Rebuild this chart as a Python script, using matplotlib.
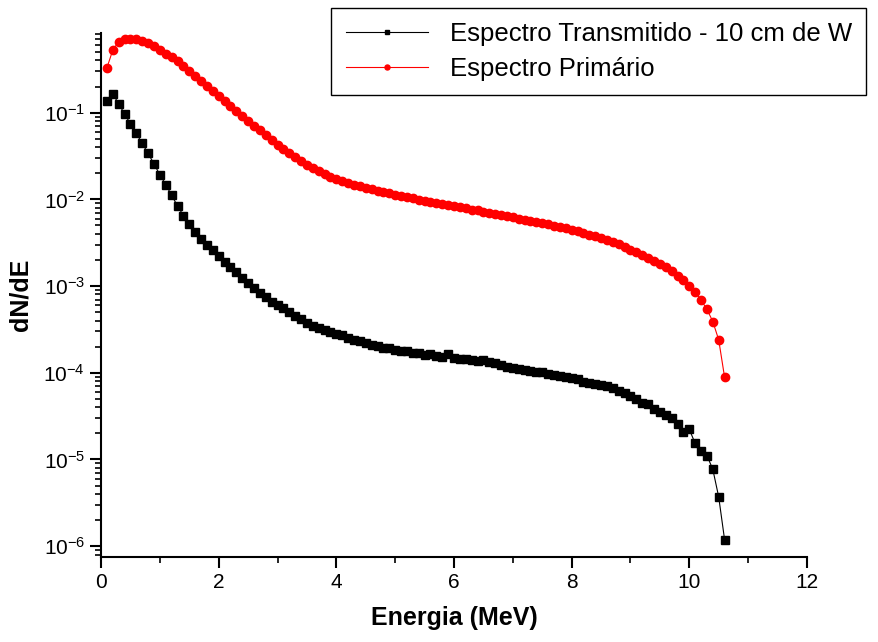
import numpy as np
import matplotlib
matplotlib.use("Agg")
import matplotlib.pyplot as plt
from matplotlib.ticker import NullFormatter

plt.rcParams['font.family'] = ['Liberation Sans', 'DejaVu Sans']
plt.rcParams['mathtext.fontset'] = 'custom'
plt.rcParams['mathtext.rm'] = 'Liberation Sans'
plt.rcParams['mathtext.default'] = 'regular'

# energia em passos de 0.1 MeV (0.1 .. 10.6)
energia = np.round(np.arange(1, 107) * 0.1, 1)

# espectro transmitido - 10 cm de W
transmitido = [
    0.138, 0.165, 0.126, 0.0966, 0.074, 0.0577, 0.0442, 0.0339, 0.0256, 0.0192,
    0.0148, 0.0111, 0.0084, 0.0065, 0.0052, 0.00423, 0.00353, 0.00296, 0.0026, 0.00223,
    0.00189, 0.00165, 0.00145, 0.00123, 0.00108, 0.00096, 0.00083, 0.00074, 0.00066, 6.1e-4,
    5.6e-4, 5.0e-4, 4.5e-4, 4.2e-4, 3.8e-4, 3.5e-4, 3.3e-4, 3.1e-4, 2.95e-4, 2.78e-4,
    2.7e-4, 2.55e-4, 2.4e-4, 2.35e-4, 2.2e-4, 2.1e-4, 2.05e-4, 1.95e-4, 1.92e-4, 1.83e-4,
    1.8e-4, 1.78e-4, 1.7e-4, 1.67e-4, 1.62e-4, 1.65e-4, 1.55e-4, 1.52e-4, 1.65e-4, 1.5e-4,
    1.46e-4, 1.44e-4, 1.42e-4, 1.38e-4, 1.40e-4, 1.33e-4, 1.28e-4, 1.22e-4, 1.16e-4, 1.13e-4,
    1.11e-4, 1.08e-4, 1.06e-4, 1.03e-4, 1.01e-4, 9.6e-5, 9.4e-5, 9.2e-5, 9.0e-5, 8.6e-5,
    8.5e-5, 7.9e-5, 7.7e-5, 7.5e-5, 7.2e-5, 7.0e-5, 6.6e-5, 6.2e-5, 5.8e-5, 5.44e-5,
    5.02e-5, 4.45e-5, 4.37e-5, 3.82e-5, 3.52e-5, 3.28e-5, 3.03e-5, 2.56e-5, 2.06e-5, 2.23e-5,
    1.53e-5, 1.26e-5, 1.11e-5, 7.7e-6, 3.7e-6, 1.19e-6,
]

# espectro primario
primario = [
    0.33, 0.53, 0.66, 0.70, 0.71, 0.70, 0.68, 0.64, 0.58, 0.53,
    0.48, 0.435, 0.39, 0.346, 0.30, 0.262, 0.23, 0.205, 0.18, 0.157,
    0.138, 0.120, 0.104, 0.0910, 0.0802, 0.0708, 0.0624, 0.0547, 0.0482, 0.0427,
    0.0381, 0.0342, 0.0309, 0.0278, 0.0251, 0.0230, 0.0211, 0.0196, 0.0183, 0.0171,
    0.0162, 0.0154, 0.0147, 0.0141, 0.0135, 0.0130, 0.0125, 0.0121, 0.0117, 0.0113,
    0.0109, 0.0106, 0.0103, 0.00995, 0.00964, 0.00935, 0.00906, 0.00879, 0.00853, 0.00828,
    0.00807, 0.00785, 0.00764, 0.00745, 0.00724, 0.00701, 0.00679, 0.00658, 0.00638, 0.00618,
    0.00600, 0.00582, 0.00565, 0.00548, 0.00532, 0.00514, 0.00497, 0.00480, 0.00462, 0.00446,
    0.00428, 0.00410, 0.00393, 0.00375, 0.00357, 0.00340, 0.00321, 0.00302, 0.00281, 0.00262,
    0.00244, 0.00228, 0.00212, 0.00195, 0.00180, 0.00164, 0.00149, 0.00132, 0.00117, 0.00100,
    0.00085, 0.00069, 0.00054, 0.00039, 0.00024, 0.000089,
]

fig = plt.figure(figsize=(8.79, 6.42), dpi=100)
ax = fig.add_axes([0.115, 0.1324, 0.803, 0.8162])

ax.plot(energia, transmitido, '-s', color='black', lw=0.8, ms=5.5,
        label='Espectro Transmitido - 10 cm de W')
ax.plot(energia, primario, '-o', color='red', lw=0.8, ms=6,
        label='Espectro Primário')

ax.set_yscale('log')
ax.set_xlim(0, 12)
ax.set_ylim(7.5e-7, 0.83)
ax.yaxis.set_minor_formatter(NullFormatter())
ax.set_xticks([0, 2, 4, 6, 8, 10, 12])
ax.set_xticks([1, 3, 5, 7, 9, 11], minor=True)

ax.spines['top'].set_visible(False)
ax.spines['right'].set_visible(False)
ax.spines['left'].set_linewidth(1.5)
ax.spines['bottom'].set_linewidth(1.5)
ax.tick_params(which='major', direction='out', length=8, width=1.5, labelsize=15)
ax.tick_params(which='minor', direction='out', length=4.5, width=1.2)

ax.set_xlabel('Energia (MeV)', fontsize=18, fontweight='bold', labelpad=10)
ax.set_ylabel('dN/dE', fontsize=18, fontweight='bold', labelpad=8)

leg = ax.legend(loc='upper right', bbox_to_anchor=(1.0836, 1.0477), borderaxespad=0,
                fontsize=18.5, fancybox=False, edgecolor='black', framealpha=1,
                handlelength=3.2, handletextpad=0.85, borderpad=0.55,
                markerscale=0.6, labelspacing=0.42)
leg.get_frame().set_linewidth(1.0)

fig.savefig('out.png', dpi=100)
